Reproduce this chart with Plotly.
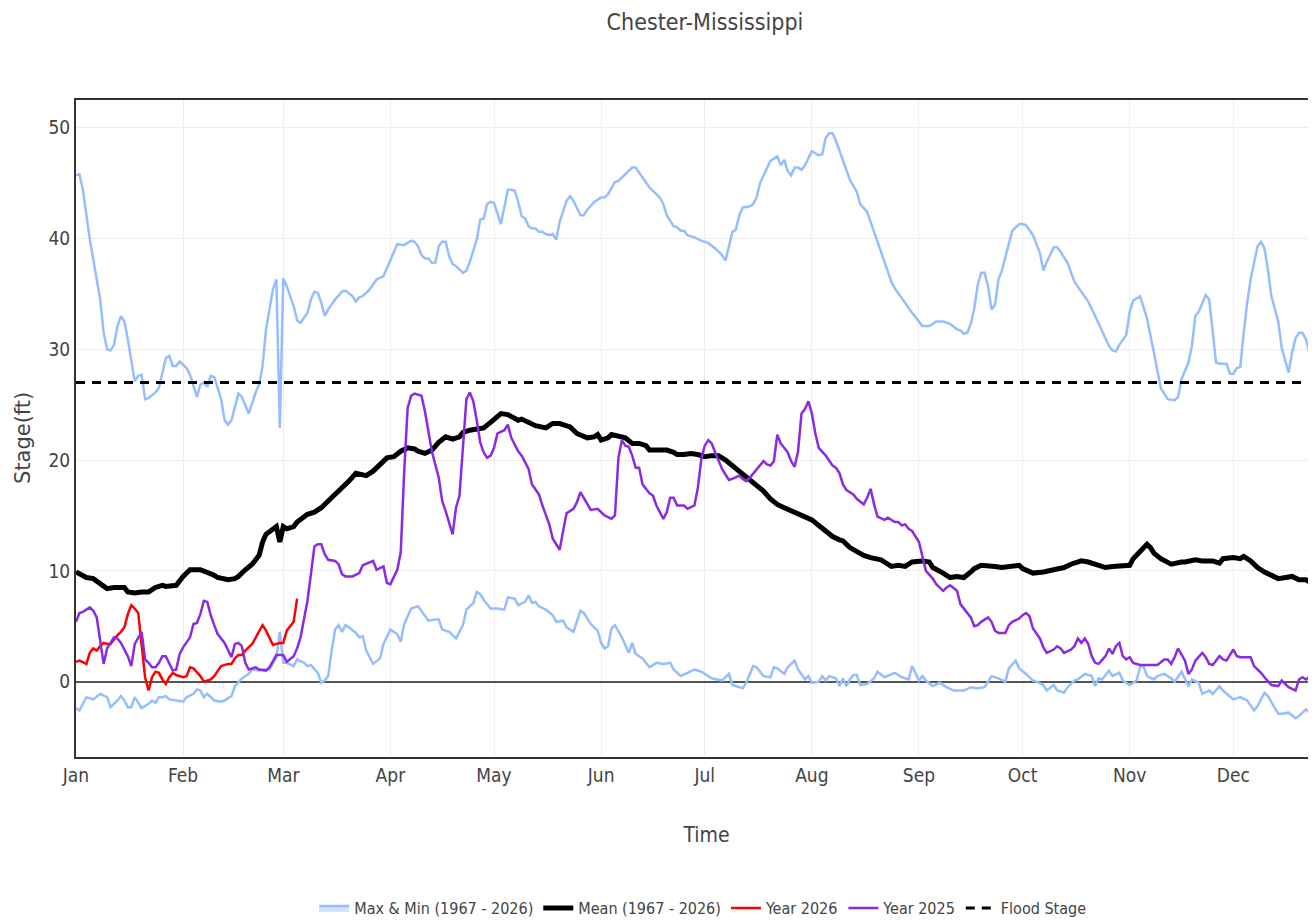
import pandas as pd
import plotly.graph_objects as go

TITLE = "Chester-Mississippi"
FLOOD_STAGE = 27.0
BASE_DATE = "2024-01-01"   # leap-year calendar used for the day-of-year axis

# ---- historical maximum (day of year offset, stage ft) ----
MAX_DAYS = [0, 1, 2, 4, 7, 8, 9, 10, 11, 12, 13, 14, 15, 17, 18, 19, 20, 21, 23, 24, 26, 27, 28, 29, 30, 32, 33, 35, 36, 37, 38, 39, 40, 42, 43, 44, 45, 47, 48, 50, 52, 53, 54, 55, 57, 58, 59, 60, 61, 63, 64, 65, 67, 68, 69, 70, 71, 72, 73, 75, 77, 78, 80, 81, 82, 83, 85, 87, 89, 91, 93, 95, 97, 98, 99, 100, 101, 102, 103, 104, 105, 106, 107, 108, 109, 110, 112, 113, 114, 116, 117, 118, 119, 120, 121, 123, 125, 126, 127, 128, 129, 130, 131, 132, 133, 134, 135, 136, 137, 138, 139, 140, 142, 143, 144, 146, 147, 148, 150, 152, 153, 154, 156, 157, 160, 161, 162, 163, 164, 166, 167, 169, 170, 171, 173, 174, 175, 176, 177, 179, 181, 183, 185, 187, 188, 190, 191, 192, 193, 195, 196, 197, 198, 200, 201, 203, 204, 205, 206, 207, 208, 209, 210, 211, 213, 214, 215, 216, 217, 218, 219, 220, 222, 224, 226, 227, 229, 230, 232, 234, 236, 237, 239, 240, 242, 245, 247, 249, 251, 253, 255, 256, 257, 258, 259, 260, 261, 262, 263, 264, 265, 266, 267, 268, 270, 271, 273, 274, 275, 277, 279, 280, 281, 283, 284, 285, 287, 289, 291, 293, 295, 297, 299, 300, 301, 302, 304, 305, 306, 308, 309, 310, 312, 314, 315, 316, 318, 319, 320, 322, 323, 324, 325, 327, 328, 329, 330, 331, 333, 334, 335, 336, 337, 338, 339, 340, 341, 342, 343, 344, 345, 346, 348, 349, 351, 352, 353, 354, 355, 356, 357, 358, 359, 361, 363, 365]
MAX_VALS = [45.7, 45.8, 44.4, 39.9, 34.5, 31.5, 30.0, 29.9, 30.4, 32.1, 33.0, 32.5, 30.9, 27.1, 27.6, 27.7, 25.5, 25.6, 26.1, 26.5, 29.2, 29.4, 28.5, 28.5, 28.9, 28.3, 27.7, 25.7, 26.8, 27.0, 26.6, 27.6, 27.5, 25.5, 23.6, 23.2, 23.6, 26.0, 25.7, 24.2, 26.1, 26.8, 28.5, 31.8, 35.4, 36.3, 22.9, 36.4, 35.7, 33.9, 32.6, 32.4, 33.3, 34.5, 35.2, 35.1, 34.2, 33.0, 33.6, 34.5, 35.2, 35.3, 34.8, 34.3, 34.7, 34.8, 35.4, 36.3, 36.6, 38.1, 39.5, 39.4, 39.8, 39.7, 39.3, 38.5, 38.2, 38.2, 37.8, 37.8, 39.3, 39.7, 39.7, 38.4, 37.7, 37.5, 36.9, 37.1, 37.9, 39.9, 41.7, 41.8, 43.1, 43.3, 43.2, 41.3, 44.4, 44.4, 44.3, 43.3, 42.0, 41.8, 41.1, 40.9, 40.9, 40.6, 40.6, 40.4, 40.3, 40.4, 39.9, 41.5, 43.4, 43.8, 43.4, 42.1, 42.1, 42.6, 43.3, 43.7, 43.7, 44.0, 45.1, 45.2, 46.1, 46.4, 46.4, 46.0, 45.5, 44.6, 44.3, 43.7, 43.1, 42.1, 41.1, 41.0, 40.7, 40.7, 40.3, 40.1, 39.8, 39.6, 39.1, 38.5, 38.0, 40.6, 40.8, 42.1, 42.8, 42.9, 43.1, 43.7, 45.0, 46.4, 47.0, 47.4, 46.6, 47.1, 46.1, 45.7, 46.4, 46.4, 46.2, 46.6, 47.9, 47.7, 47.5, 47.6, 49.1, 49.5, 49.5, 48.8, 47.0, 45.3, 44.2, 43.1, 42.4, 41.5, 39.7, 37.9, 36.1, 35.5, 34.6, 34.2, 33.3, 32.1, 32.1, 32.5, 32.5, 32.3, 31.8, 31.7, 31.4, 31.5, 32.3, 33.7, 35.8, 36.9, 36.9, 35.7, 33.6, 34.0, 36.3, 37.1, 39.6, 40.7, 41.3, 41.3, 41.2, 40.3, 38.7, 37.1, 37.9, 39.2, 39.2, 38.8, 37.8, 36.1, 35.2, 34.3, 33.0, 31.6, 30.3, 29.9, 29.8, 30.4, 31.3, 33.4, 34.4, 34.8, 33.9, 32.8, 29.7, 26.5, 26.0, 25.5, 25.4, 25.7, 27.3, 28.8, 30.3, 33.0, 33.4, 34.9, 34.5, 31.5, 28.8, 28.7, 28.7, 27.8, 27.8, 28.3, 28.4, 31.5, 34.2, 36.3, 37.9, 39.3, 39.7, 39.1, 37.2, 34.8, 32.5, 30.1, 27.9, 29.7, 31.0, 31.5, 31.5, 30.9, 29.7, 29.7, 29.3, 29.1, 29.0, 28.9]

# ---- historical minimum ----
MIN_DAYS = [0, 1, 3, 5, 7, 9, 10, 12, 13, 14, 15, 16, 17, 18, 19, 21, 22, 23, 24, 25, 26, 27, 29, 31, 32, 34, 35, 36, 37, 38, 40, 42, 43, 45, 46, 48, 50, 51, 53, 54, 56, 57, 58, 59, 60, 61, 63, 64, 66, 67, 68, 70, 71, 72, 73, 74, 75, 76, 77, 78, 79, 81, 82, 83, 84, 86, 88, 89, 91, 93, 94, 95, 97, 99, 100, 102, 104, 105, 106, 108, 110, 112, 113, 115, 116, 117, 118, 120, 122, 124, 125, 127, 128, 130, 131, 132, 133, 134, 136, 138, 139, 141, 142, 144, 146, 147, 149, 151, 152, 153, 154, 155, 156, 157, 158, 160, 161, 162, 164, 166, 168, 170, 172, 173, 175, 177, 179, 181, 182, 184, 187, 189, 190, 193, 194, 196, 197, 199, 201, 202, 203, 205, 206, 208, 209, 211, 212, 213, 215, 216, 217, 218, 220, 221, 222, 223, 224, 225, 226, 227, 229, 231, 232, 234, 237, 239, 241, 242, 244, 245, 246, 248, 250, 252, 254, 257, 259, 261, 263, 265, 267, 269, 270, 272, 273, 275, 277, 278, 280, 281, 283, 284, 286, 287, 289, 290, 292, 294, 295, 296, 297, 299, 300, 302, 303, 305, 307, 308, 309, 310, 312, 313, 315, 317, 318, 319, 320, 322, 323, 325, 326, 328, 329, 331, 332, 335, 337, 339, 341, 342, 344, 345, 346, 348, 349, 351, 353, 354, 356, 357, 359, 361, 363, 365]
MIN_VALS = [-2.4, -2.6, -1.4, -1.6, -1.1, -1.4, -2.3, -1.7, -1.3, -1.7, -2.3, -2.3, -1.4, -1.9, -2.4, -2.0, -1.7, -1.9, -1.4, -1.4, -1.3, -1.6, -1.7, -1.8, -1.4, -1.1, -0.7, -0.8, -1.4, -1.1, -1.7, -1.8, -1.7, -1.3, -0.4, 0.3, 0.7, 1.1, 1.0, 1.1, 1.1, 1.7, 2.2, 4.5, 1.7, 1.7, 1.4, 2.0, 1.7, 1.4, 1.5, 0.8, -0.1, 0.1, 0.5, 2.8, 4.7, 5.1, 4.5, 5.1, 4.9, 4.4, 4.0, 4.1, 2.8, 1.6, 2.1, 3.4, 4.7, 4.3, 3.6, 5.2, 6.6, 6.8, 6.4, 5.5, 5.6, 5.6, 4.7, 4.5, 3.9, 5.1, 6.5, 7.1, 8.1, 7.9, 7.4, 6.6, 6.6, 6.5, 7.6, 7.5, 6.9, 7.2, 7.8, 7.1, 7.2, 6.8, 6.5, 6.0, 5.4, 5.5, 4.9, 4.5, 6.4, 6.2, 5.2, 4.6, 3.5, 3.0, 3.2, 4.8, 5.1, 4.5, 4.0, 2.6, 3.5, 2.5, 2.1, 1.3, 1.7, 1.6, 1.7, 1.1, 0.5, 0.8, 1.1, 0.9, 0.7, 0.3, 0.1, 0.7, -0.3, -0.6, -0.1, 1.4, 1.3, 0.5, 0.4, 1.3, 1.2, 0.7, 1.3, 1.9, 1.1, 0.2, 0.5, -0.1, 0.0, 0.5, 0.1, 0.5, 0.3, -0.4, 0.3, -0.4, 0.2, 0.6, 0.6, -0.3, -0.2, 0.3, 0.9, 0.4, 0.8, 0.4, 0.2, 1.4, 0.1, 0.5, 0.1, -0.4, -0.1, -0.5, -0.8, -0.8, -0.5, -0.6, -0.5, 0.5, 0.3, 0.0, 1.2, 1.9, 1.2, 0.7, 0.1, 0.0, -0.3, -0.8, -0.3, -0.8, -1.0, -0.5, 0.1, 0.2, 0.7, 0.5, -0.4, 0.3, 0.2, 1.0, 0.5, 0.8, 0.1, -0.3, 0.1, 1.3, 1.4, 0.5, 0.2, 0.5, 0.7, 0.3, 0.0, 0.5, 0.9, -0.4, 0.2, -0.1, -1.1, -0.8, -1.1, -0.4, -0.8, -1.6, -1.4, -1.7, -2.6, -2.2, -1.0, -1.3, -1.8, -2.9, -2.9, -2.8, -3.3, -3.1, -2.5, -2.8, -2.0, -2.2, -2.3, -2.0]

# ---- historical mean ----
MEAN_DAYS = [0, 1, 3, 5, 7, 9, 11, 14, 15, 17, 19, 21, 23, 25, 26, 28, 29, 31, 33, 36, 38, 40, 41, 44, 46, 47, 49, 51, 53, 54, 55, 57, 58, 59, 60, 61, 63, 64, 66, 67, 69, 71, 73, 75, 77, 79, 81, 83, 84, 86, 88, 90, 92, 94, 96, 98, 99, 101, 103, 105, 107, 109, 111, 112, 114, 116, 118, 120, 122, 123, 125, 126, 128, 129, 131, 133, 136, 138, 140, 143, 145, 148, 150, 151, 152, 154, 155, 157, 159, 161, 163, 165, 166, 168, 171, 173, 174, 176, 178, 180, 182, 184, 186, 188, 190, 192, 193, 195, 197, 199, 201, 203, 205, 207, 209, 211, 213, 215, 217, 219, 221, 222, 224, 226, 228, 230, 233, 234, 236, 238, 240, 242, 245, 247, 248, 251, 253, 255, 257, 259, 260, 262, 264, 266, 268, 270, 273, 274, 276, 277, 280, 282, 284, 286, 288, 289, 291, 293, 295, 298, 300, 303, 305, 306, 308, 310, 311, 312, 314, 316, 317, 320, 321, 324, 326, 329, 331, 332, 335, 337, 338, 340, 342, 344, 346, 348, 352, 354, 356, 357, 359, 362, 365]
MEAN_VALS = [9.9, 9.7, 9.4, 9.3, 8.8, 8.4, 8.5, 8.5, 8.1, 8.0, 8.1, 8.1, 8.5, 8.7, 8.6, 8.6, 8.7, 9.5, 10.1, 10.1, 9.9, 9.6, 9.4, 9.2, 9.3, 9.5, 10.1, 10.6, 11.4, 12.6, 13.3, 13.8, 14.0, 12.6, 14.0, 13.8, 14.0, 14.4, 14.8, 15.1, 15.3, 15.7, 16.3, 16.9, 17.4, 18.1, 18.8, 18.7, 18.6, 19.0, 19.6, 20.2, 20.3, 20.8, 21.1, 21.0, 20.8, 20.6, 20.9, 21.6, 22.1, 21.9, 22.1, 22.5, 22.7, 22.8, 22.9, 23.4, 24.0, 24.2, 24.1, 23.9, 23.6, 23.7, 23.4, 23.1, 22.9, 23.3, 23.3, 23.0, 22.4, 22.0, 22.1, 22.3, 21.8, 22.0, 22.3, 22.2, 22.0, 21.5, 21.5, 21.3, 20.9, 20.9, 20.9, 20.7, 20.5, 20.5, 20.6, 20.5, 20.3, 20.4, 20.4, 20.0, 19.5, 19.0, 18.7, 18.2, 17.8, 17.2, 16.5, 16.0, 15.7, 15.4, 15.1, 14.9, 14.6, 14.1, 13.6, 13.1, 12.8, 12.7, 12.1, 11.7, 11.4, 11.2, 11.0, 10.8, 10.4, 10.5, 10.4, 10.8, 10.9, 10.8, 10.3, 9.8, 9.4, 9.5, 9.4, 9.9, 10.2, 10.5, 10.5, 10.4, 10.3, 10.4, 10.5, 10.2, 9.9, 9.8, 9.9, 10.0, 10.1, 10.3, 10.6, 10.7, 10.9, 10.8, 10.6, 10.3, 10.4, 10.5, 10.5, 11.1, 11.8, 12.4, 12.1, 11.6, 11.1, 10.7, 10.6, 10.8, 10.8, 11.0, 10.9, 10.9, 10.7, 11.1, 11.2, 11.1, 11.3, 10.9, 10.3, 9.9, 9.6, 9.3, 9.5, 9.2, 9.2, 9.0, 9.0, 9.0, 8.9]

# ---- current year 2026 ----
Y2026_DAYS = [0, 1, 3, 4, 5, 6, 7, 8, 9, 10, 12, 13, 14, 15, 16, 17, 18, 19, 20, 21, 22, 23, 24, 25, 26, 27, 28, 29, 31, 32, 33, 34, 36, 37, 39, 40, 41, 42, 44, 45, 46, 47, 48, 49, 51, 52, 53, 54, 55, 56, 57, 59, 60, 61, 63, 64]
Y2026_VALS = [1.8, 1.9, 1.6, 2.6, 3.0, 2.8, 3.2, 3.5, 3.4, 3.4, 4.2, 4.5, 4.9, 6.1, 6.9, 6.6, 6.2, 3.1, 0.4, -0.8, 0.4, 0.9, 0.8, 0.2, -0.2, 0.4, 0.8, 0.6, 0.4, 0.5, 1.3, 1.2, 0.5, 0.0, 0.2, 0.5, 1.0, 1.4, 1.6, 1.6, 2.1, 2.4, 2.4, 2.8, 3.4, 4.0, 4.6, 5.1, 4.6, 3.9, 3.3, 3.5, 3.5, 4.6, 5.4, 7.5]

# ---- previous year 2025 ----
Y2025_DAYS = [0, 1, 2, 4, 5, 6, 7, 8, 9, 11, 12, 13, 15, 16, 17, 19, 20, 21, 22, 23, 24, 25, 26, 27, 28, 29, 30, 31, 33, 34, 35, 36, 37, 38, 39, 40, 41, 43, 44, 45, 46, 47, 48, 49, 50, 52, 53, 55, 56, 57, 58, 60, 61, 63, 64, 65, 66, 67, 68, 69, 70, 71, 72, 73, 75, 76, 77, 78, 80, 82, 83, 85, 86, 87, 89, 90, 91, 93, 94, 95, 96, 97, 98, 100, 101, 103, 105, 106, 107, 109, 110, 111, 112, 113, 114, 115, 116, 117, 118, 119, 120, 121, 122, 124, 125, 126, 128, 129, 131, 132, 134, 135, 137, 138, 139, 140, 141, 142, 144, 145, 146, 148, 149, 151, 152, 153, 155, 156, 157, 158, 159, 160, 161, 162, 163, 164, 166, 167, 168, 170, 171, 172, 173, 174, 176, 177, 179, 180, 181, 182, 183, 184, 185, 187, 188, 189, 190, 192, 193, 194, 195, 197, 198, 199, 200, 201, 202, 203, 204, 206, 207, 208, 209, 210, 211, 212, 213, 214, 215, 217, 219, 220, 221, 222, 223, 225, 226, 228, 229, 230, 231, 232, 234, 235, 237, 238, 239, 240, 241, 242, 244, 245, 246, 248, 249, 251, 252, 253, 255, 256, 257, 259, 260, 261, 262, 264, 265, 266, 267, 269, 270, 271, 273, 274, 275, 276, 277, 279, 280, 281, 283, 284, 285, 286, 288, 289, 290, 291, 292, 293, 294, 295, 296, 298, 299, 300, 301, 302, 303, 304, 305, 306, 308, 310, 312, 313, 315, 316, 317, 318, 319, 321, 322, 323, 324, 326, 327, 328, 329, 331, 332, 333, 335, 336, 337, 340, 341, 343, 344, 346, 348, 349, 351, 353, 354, 355, 356, 358, 359, 361, 364]
Y2025_VALS = [5.4, 6.2, 6.3, 6.7, 6.4, 5.8, 3.7, 1.6, 3.0, 4.0, 3.9, 3.5, 2.3, 1.4, 3.4, 4.5, 2.0, 1.7, 1.3, 1.3, 1.7, 2.3, 2.3, 1.6, 1.0, 1.1, 2.5, 3.1, 4.0, 5.2, 5.3, 6.1, 7.3, 7.2, 6.0, 5.1, 4.3, 3.5, 2.8, 2.2, 3.4, 3.5, 3.2, 1.7, 1.1, 1.3, 1.1, 1.0, 1.3, 1.9, 2.4, 2.4, 1.8, 2.3, 3.0, 4.0, 5.5, 7.3, 9.7, 12.2, 12.4, 12.4, 11.5, 11.0, 10.9, 10.6, 9.7, 9.5, 9.5, 9.8, 10.5, 10.8, 10.9, 10.1, 10.4, 8.9, 8.8, 10.1, 11.7, 19.0, 24.7, 25.8, 26.0, 25.8, 24.4, 20.8, 18.4, 16.3, 15.4, 13.3, 15.7, 16.8, 21.1, 25.5, 26.1, 25.3, 23.6, 21.6, 20.7, 20.2, 20.4, 21.1, 22.4, 22.7, 23.2, 22.0, 20.8, 20.4, 19.2, 17.8, 16.9, 15.9, 14.2, 12.9, 12.4, 11.9, 13.6, 15.2, 15.6, 16.2, 17.1, 16.0, 15.5, 15.6, 15.3, 15.0, 14.7, 15.0, 20.2, 21.8, 21.3, 21.2, 20.4, 19.3, 19.3, 17.8, 17.0, 16.8, 15.9, 14.7, 15.3, 16.6, 16.6, 15.9, 15.9, 15.6, 15.9, 17.5, 20.1, 21.3, 21.8, 21.5, 20.7, 19.2, 18.7, 18.2, 18.3, 18.6, 18.3, 18.1, 18.4, 19.2, 19.5, 19.9, 19.6, 19.5, 19.9, 22.3, 21.5, 20.7, 19.9, 19.4, 20.8, 24.2, 24.6, 25.3, 24.2, 22.4, 21.1, 20.4, 19.5, 19.3, 18.8, 17.8, 17.3, 16.9, 16.5, 16.0, 16.6, 17.4, 16.0, 14.9, 14.6, 14.8, 14.4, 14.4, 14.1, 14.2, 13.8, 13.6, 12.6, 11.2, 10.0, 9.3, 8.8, 8.2, 8.5, 8.7, 8.2, 7.0, 6.6, 5.8, 5.0, 5.1, 5.4, 5.8, 5.4, 4.6, 4.4, 4.4, 5.1, 5.4, 5.7, 6.0, 6.2, 5.9, 4.8, 3.9, 3.1, 2.6, 2.9, 3.2, 3.0, 2.6, 2.9, 3.2, 3.9, 3.5, 3.9, 3.4, 2.3, 1.7, 1.6, 2.3, 3.0, 2.5, 3.2, 3.5, 2.3, 2.0, 2.2, 1.7, 1.5, 1.5, 1.5, 1.5, 2.0, 2.0, 1.6, 2.2, 3.0, 1.9, 0.7, 1.1, 1.9, 2.6, 2.2, 1.6, 1.5, 2.3, 2.0, 1.9, 2.9, 2.3, 2.2, 2.2, 1.4, 0.8, 0.4, -0.3, -0.4, 0.1, -0.5, -0.8, 0.2, 0.4, 0.2, 0.7, 1.3, 1.6, 1.8]

MONTH_TICKS = ["Jan", "Feb", "Mar", "Apr", "May", "Jun", "Jul", "Aug", "Sep", "Oct", "Nov", "Dec"]
Y_TICKS = [0, 10, 20, 30, 40, 50]

LBLUE = "rgb(150,190,255)"
PURPLE = "#8A2BE2"
COND = "DejaVu Sans Condensed, Liberation Sans Narrow, sans-serif"
TXT = "#444444"

base = pd.Timestamp(BASE_DATE)


def to_dates(days):
    return [(base + pd.Timedelta(days=d)).strftime("%Y-%m-%d") for d in days]


tick_vals = [pd.Timestamp(2024, m, 1).strftime("%Y-%m-%d") for m in range(1, 13)]
x_start = base.strftime("%Y-%m-%d")
x_end = (base + pd.Timedelta(days=365)).strftime("%Y-%m-%d")

FIG_W, FIG_H = 1410, 920

fig = go.Figure()
# legend-only entry for the max/min envelope
fig.add_trace(go.Scatter(x=[x_start], y=[None], mode="lines", name="Max & Min (1967 - 2026)",
                         line=dict(color=LBLUE, width=2.5), fill="tozeroy",
                         fillcolor="rgba(150,190,255,0.45)", legendgroup="mm"))
fig.add_trace(go.Scatter(x=to_dates(MAX_DAYS), y=MAX_VALS, mode="lines", name="Max",
                         line=dict(color=LBLUE, width=2.5), showlegend=False, legendgroup="mm"))
fig.add_trace(go.Scatter(x=to_dates(MIN_DAYS), y=MIN_VALS, mode="lines", name="Min",
                         line=dict(color=LBLUE, width=2.5), showlegend=False, legendgroup="mm"))
fig.add_trace(go.Scatter(x=to_dates(MEAN_DAYS), y=MEAN_VALS, mode="lines", name="Mean (1967 - 2026)",
                         line=dict(color="black", width=5)))
fig.add_trace(go.Scatter(x=to_dates(Y2026_DAYS), y=Y2026_VALS, mode="lines", name="Year 2026",
                         line=dict(color="red", width=2.5)))
fig.add_trace(go.Scatter(x=to_dates(Y2025_DAYS), y=Y2025_VALS, mode="lines", name="Year 2025",
                         line=dict(color=PURPLE, width=2.5)))
fig.add_trace(go.Scatter(x=[x_start, x_end], y=[FLOOD_STAGE, FLOOD_STAGE],
                         mode="lines", name="Flood Stage",
                         line=dict(color="black", width=3, dash="9px,7px")))

fig.update_layout(
    width=FIG_W, height=FIG_H, autosize=False,
    margin=dict(l=68, r=81, t=92, b=171, autoexpand=False),
    paper_bgcolor="white", plot_bgcolor="white",
    title=dict(text=TITLE, x=0.4943, xanchor="center", y=0.985, yanchor="middle",
               font=dict(family=COND, size=23, color=TXT)),
    font=dict(family=COND, color=TXT),
    showlegend=True,
    legend=dict(orientation="h", x=0.497, xanchor="center", yref="container", y=0.0217, yanchor="middle",
                font=dict(family=COND, size=16, color=TXT), bgcolor="rgba(0,0,0,0)"),
    hovermode="x",
    annotations=[dict(text="Stage(ft)", textangle=-90, xref="paper", yref="paper",
                      x=0, xshift=-53, y=0.4855, xanchor="center", yanchor="middle",
                      showarrow=False, font=dict(family="DejaVu Sans", size=21, color=TXT))],
)
fig.update_xaxes(
    type="date", automargin=False,
    range=[x_start, x_end],
    tickvals=tick_vals, ticktext=MONTH_TICKS,
    tickfont=dict(family=COND, size=19, color=TXT),
    showgrid=True, gridcolor="#eeeeee", gridwidth=1,
    showline=True, linecolor="#333333", linewidth=2, mirror=True,
    ticks="", zeroline=False,
    title=dict(text="Time", font=dict(family=COND, size=21, color=TXT), standoff=43),
)
fig.update_yaxes(
    automargin=False,
    range=[-6.8, 52.5],
    tickvals=Y_TICKS,
    tickfont=dict(family=COND, size=19, color=TXT),
    showgrid=True, gridcolor="#eeeeee", gridwidth=1,
    showline=True, linecolor="#333333", linewidth=2, mirror=True,
    ticks="", zeroline=True, zerolinecolor="#555555", zerolinewidth=1.5,
)

fig.write_html("out.html", post_script="document.documentElement.style.overflow='hidden';document.body.style.overflow='hidden';")
